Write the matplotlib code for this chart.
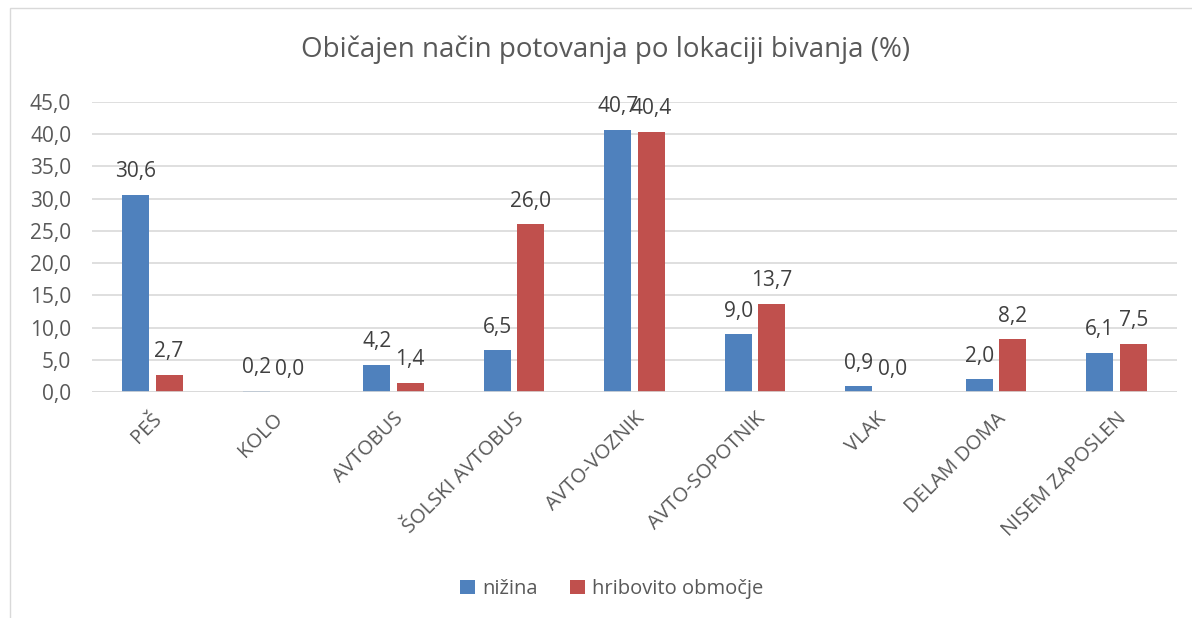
import matplotlib
matplotlib.use("Agg")
import matplotlib.pyplot as plt
from matplotlib.patches import Rectangle
import numpy as np

categories = ["PEŠ", "KOLO", "AVTOBUS", "ŠOLSKI AVTOBUS", "AVTO-VOZNIK",
              "AVTO-SOPOTNIK", "VLAK", "DELAM DOMA", "NISEM ZAPOSLEN"]
nizina = [30.6, 0.2, 4.2, 6.5, 40.7, 9.0, 0.9, 2.0, 6.1]
hribovito = [2.7, 0.0, 1.4, 26.0, 40.4, 13.7, 0.0, 8.2, 7.5]
series_names = ["nižina", "hribovito območje"]
yticks = [0, 5, 10, 15, 20, 25, 30, 35, 40, 45]

plt.rcParams['font.family'] = ['Open Sans', 'DejaVu Sans']
txt = "#595959"

W, H = 1192, 618
fig = plt.figure(figsize=(W / 100, H / 100), dpi=100)
ax = fig.add_axes([92 / W, 1 - 392 / H, (1177 - 92) / W, (392 - 102) / H])

fig.patches.append(Rectangle((10 / W, -0.1), 1.2, 1 - 8 / H + 0.1,
                             transform=fig.transFigure, fill=False,
                             edgecolor="#D9D9D9", linewidth=1))

x = np.arange(len(categories))
bw = 0.224
off = 0.139
b1 = ax.bar(x - off, nizina, bw, color="#4F81BD", label=series_names[0])
b2 = ax.bar(x + off, hribovito, bw, color="#C0504D", label=series_names[1])

for bars, vals in ((b1, nizina), (b2, hribovito)):
    for r, v in zip(bars, vals):
        ax.annotate(f"{v:.1f}".replace(".", ","),
                    (r.get_x() + r.get_width() / 2, v),
                    xytext=(0, 9), textcoords="offset points",
                    ha="center", va="bottom", fontsize=15, color="#404040")

ax.set_xlim(-0.5, len(categories) - 0.5)
ax.set_ylim(0, 45)
ax.set_yticks(yticks)
ax.set_yticklabels([f"{t:.1f}".replace(".", ",") for t in yticks],
                   fontsize=15, color=txt)
ax.set_xticks(x)
ax.set_xticklabels(categories, rotation=45, ha="right", rotation_mode="anchor",
                   fontsize=14.5, color=txt)
ax.tick_params(axis="x", length=0, pad=12)
ax.tick_params(axis="y", length=0, pad=15)
for s in ax.spines.values():
    s.set_visible(False)
ax.grid(axis="y", color="#D9D9D9", linewidth=1.2)
ax.set_axisbelow(True)
ax.axhline(0, color="#D9D9D9", linewidth=1.2)

fig.text(606 / W, 1 - 50 / H, "Običajen način potovanja po lokaciji bivanja (%)",
         ha="center", va="center", fontsize=20, color=txt)

fig.legend(handles=[b1, b2], labels=series_names, loc="center",
           bbox_to_anchor=(612 / W, 1 - 589 / H), ncol=2, frameon=False,
           fontsize=14.5, labelcolor=txt, handlelength=0.75, handleheight=0.75,
           columnspacing=1.6, handletextpad=0.35)

fig.savefig("out.png", dpi=100)
